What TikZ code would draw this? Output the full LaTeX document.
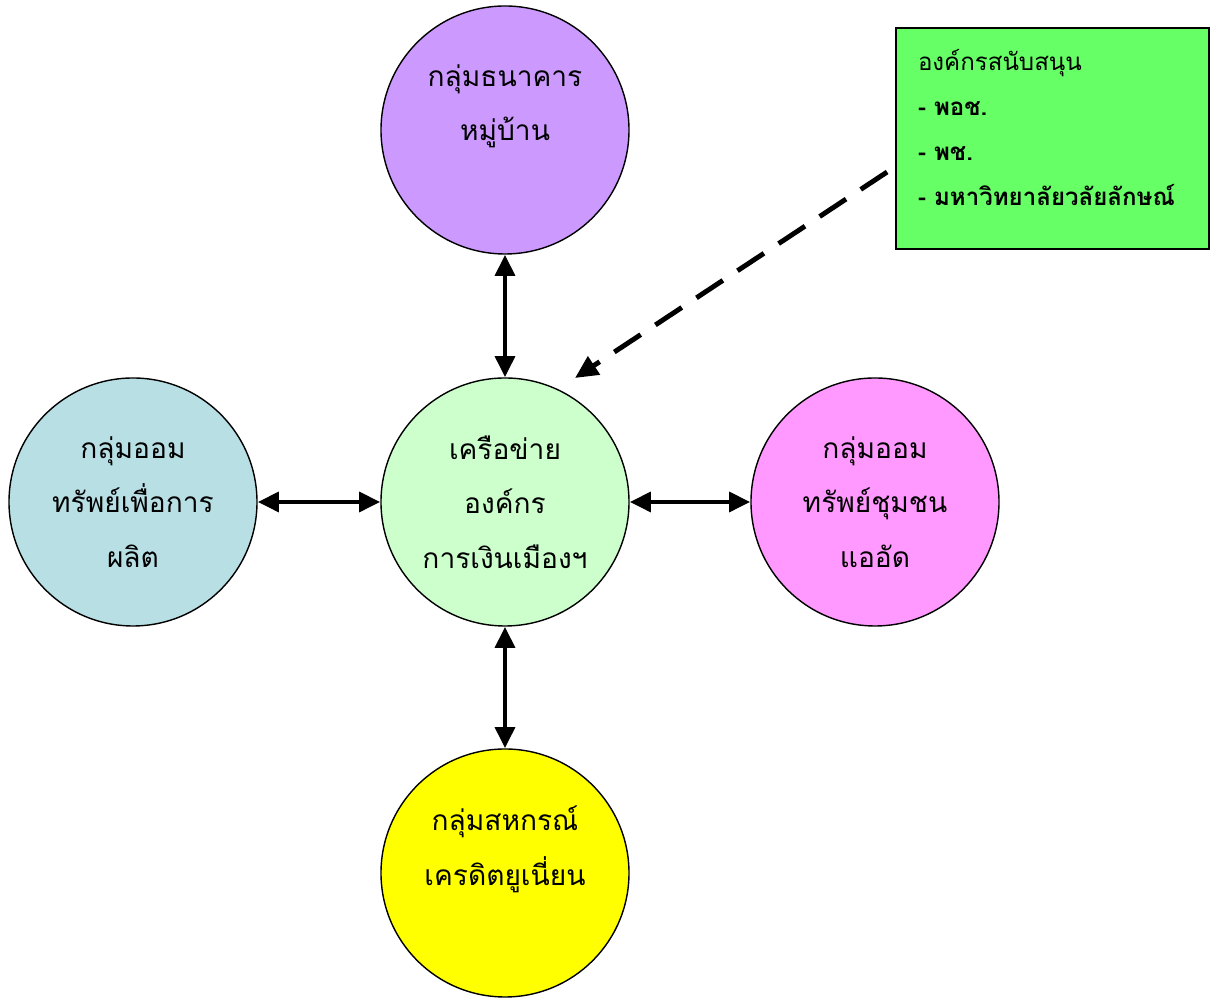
\documentclass[tikz,border=0pt]{standalone}
\usepackage{fontspec}
\newfontfamily\thaifont[Script=Thai]{Loma}
\usepackage{xcolor}
\usetikzlibrary{arrows.meta}
\usetikzlibrary{calc}

\definecolor{bankcol}{HTML}{CC99FF}
\definecolor{hubcol}{HTML}{CCFFCC}
\definecolor{prodcol}{HTML}{B7DFE4}
\definecolor{commcol}{HTML}{FF99FF}
\definecolor{coopcol}{HTML}{FFFF00}
\definecolor{supportcol}{HTML}{66FF66}

\begin{document}
\begin{tikzpicture}[
    group/.style={circle, draw, line width=0.8pt, minimum size=4.96cm,
      inner sep=0pt, align=center, font=\thaifont\fontsize{16}{31}\selectfont},
    link/.style={{Triangle[length=12pt,width=11pt]}-{Triangle[length=12pt,width=11pt]},
      line width=2.8pt},
    helps/.style={-{Triangle[length=13pt,width=12pt]}, line width=2.8pt,
      dash pattern=on 18pt off 10pt},
    supbox/.style={draw, line width=1pt, fill=supportcol, minimum width=6.26cm,
      minimum height=4.42cm, text width=5.38cm, inner xsep=0.44cm, align=left,
      font=\thaifont\fontsize{13.7}{25.5}\selectfont}]
  \useasboundingbox (0,0) rectangle (24.32,19.98);

  \node[group, fill=hubcol] (hub) at (10.10,9.94)
    {เครือข่าย\\องค์กร\\การเงินเมืองฯ};
  \node[group, fill=bankcol] (bank) at (10.10,17.38)
    {กลุ่มธนาคาร\\หมู่บ้าน\\\mbox{}};
  \node[group, fill=prodcol] (prod) at (2.66,9.94)
    {กลุ่มออม\\ทรัพย์เพื่อการ\\ผลิต};
  \node[group, fill=commcol] (comm) at (17.50,9.94)
    {กลุ่มออม\\ทรัพย์ชุมชน\\แออัด};
  \node[group, fill=coopcol] (coop) at (10.10,2.52)
    {กลุ่มสหกรณ์\\เครดิตยูเนี่ยน\\\mbox{}};

  \node[supbox] (support) at (21.05,17.21)
    {องค์กรสนับสนุน\\
     \textbf{-~พอช.}\\
     \textbf{-~พช.}\\
     \mbox{\textbf{-~มหาวิทยาลัยวลัยลักษณ์}}\\[-0.45cm]\mbox{}};

  \draw[link] (bank) -- (hub);
  \draw[link] (prod) -- (hub);
  \draw[link] (hub) -- (comm);
  \draw[link] (hub) -- (coop);

  \coordinate (dashstart) at ($(support.west)+(-0.16,-0.67)$);
  \coordinate (dashend) at (11.50,12.42);
  \draw[helps] (dashstart) -- (dashend);
\end{tikzpicture}
\end{document}
